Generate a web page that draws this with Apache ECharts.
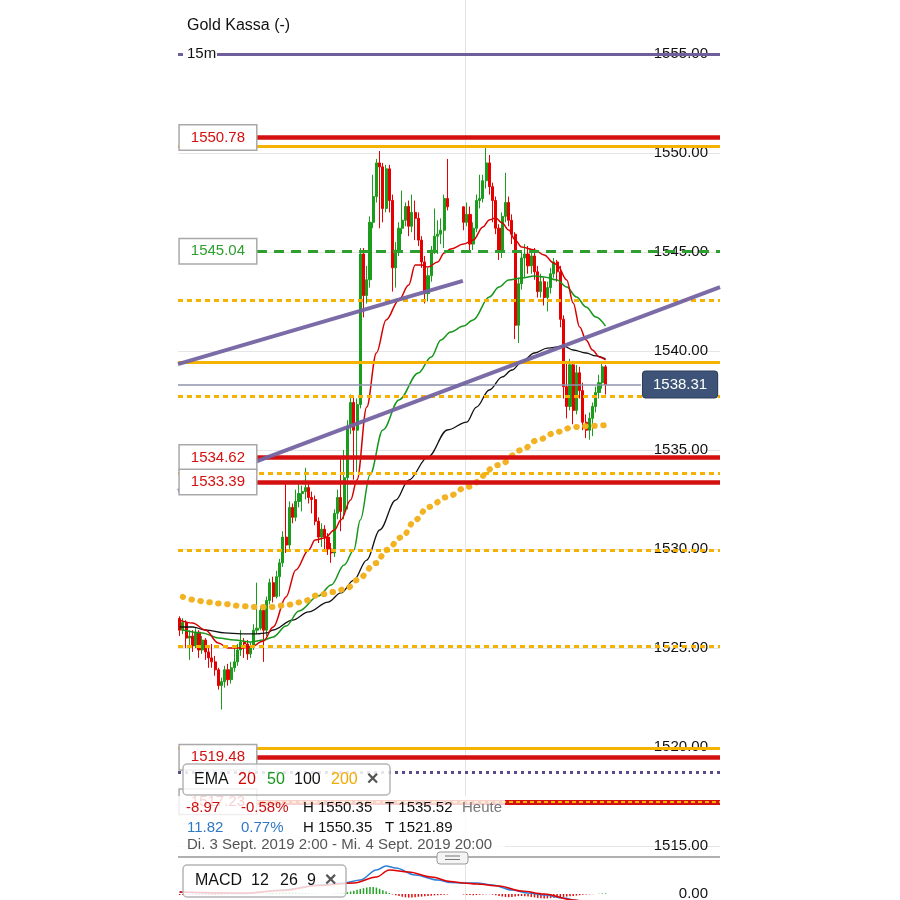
<!DOCTYPE html>
<html><head><meta charset="utf-8">
<script src="https://cdn.jsdelivr.net/npm/echarts@6/dist/echarts.min.js"></script>
<style>html,body{margin:0;padding:0;background:#fff}#c{width:900px;height:900px}</style>
</head><body><div id="c"></div>
<script>
const FONT = '"Liberation Sans", Arial, Helvetica, sans-serif';
const N = 168; // 15-minute slots: Di. 3 Sept 2:00 .. Mi. 4 Sept 20:00

// ---------- DATA ----------
// candles [open, close, low, high]
const candlesDay1 = [
[1526.49,1525.90,1525.60,1526.60],[1525.90,1526.30,1525.70,1526.50],[1526.30,1525.50,1525.00,1526.40],[1525.50,1525.60,1524.40,1525.90],
[1525.60,1525.10,1524.80,1525.90],[1525.10,1525.80,1525.00,1526.00],[1525.80,1524.90,1524.50,1525.90],[1524.90,1525.40,1524.70,1525.60],
[1525.40,1524.80,1524.40,1525.50],[1524.80,1524.50,1524.00,1525.00],[1524.50,1524.30,1524.00,1525.20],[1524.30,1523.90,1523.60,1524.60],
[1523.90,1523.10,1522.90,1524.00],[1523.10,1523.30,1521.89,1523.50],[1523.30,1523.90,1523.00,1524.10],[1523.90,1523.40,1523.10,1524.20],
[1523.40,1524.00,1523.20,1524.30],[1524.00,1524.30,1523.80,1525.00],[1524.30,1524.90,1524.10,1525.20],[1524.90,1525.30,1524.60,1525.90],
[1525.30,1525.20,1524.50,1525.50],[1525.20,1524.70,1524.40,1525.40],[1524.70,1525.10,1524.50,1525.30],[1525.10,1525.90,1524.90,1526.20],
[1525.90,1526.00,1525.70,1528.30],[1526.00,1526.90,1525.90,1527.10],[1526.90,1525.90,1524.30,1527.00],[1525.90,1527.40,1525.60,1527.60],
[1527.40,1528.30,1527.20,1528.50],[1528.30,1527.60,1527.30,1528.60],[1527.60,1528.60,1527.50,1528.90],[1528.60,1529.30,1527.60,1529.50],
[1529.30,1530.60,1529.10,1530.90],[1530.60,1530.20,1529.80,1533.40],[1530.20,1532.10,1530.00,1532.40],[1532.10,1531.60,1531.30,1532.30],
[1531.60,1532.40,1531.40,1533.00],[1532.40,1532.80,1532.10,1533.40],[1532.80,1532.90,1531.90,1533.20],[1532.90,1533.10,1532.50,1534.10],
[1533.10,1532.60,1532.30,1533.40],[1532.60,1532.50,1531.80,1532.90],[1532.50,1531.40,1531.20,1532.70],[1531.40,1530.60,1530.30,1531.60],
[1530.60,1531.00,1530.10,1531.30],[1531.00,1530.60,1529.90,1531.20],[1530.60,1530.00,1529.70,1530.80],[1530.00,1529.80,1529.30,1530.30],
[1529.80,1531.80,1529.60,1532.00],[1531.80,1532.60,1531.50,1533.00],[1532.60,1531.90,1530.90,1534.60],[1531.90,1533.60,1531.50,1535.00],
[1533.60,1536.20,1532.00,1536.50],[1536.20,1537.40,1535.80,1537.80],[1537.40,1536.00,1533.50,1537.70],[1536.00,1537.30,1533.90,1537.60],
[1537.30,1544.90,1537.10,1545.20],[1544.90,1542.80,1541.70,1545.20],[1542.80,1543.60,1542.40,1544.30],[1543.60,1546.50,1543.20,1546.80],
[1546.50,1547.80,1546.20,1548.90],[1547.80,1549.50,1547.50,1549.70],[1549.50,1549.30,1546.20,1550.10],[1549.30,1547.20,1546.50,1549.50],
[1547.20,1549.20,1547.00,1549.40],[1549.20,1547.60,1547.00,1549.40],[1547.60,1544.20,1543.00,1547.90],[1544.20,1545.10,1543.20,1545.50],
[1545.10,1546.20,1544.80,1546.50],[1546.20,1546.60,1545.90,1548.10],[1546.60,1547.30,1546.30,1547.50],[1547.30,1546.30,1545.80,1547.60],
[1546.30,1547.00,1546.00,1547.90],[1547.00,1546.70,1545.60,1547.60],[1546.70,1545.60,1545.30,1547.00],[1545.60,1544.50,1544.20,1545.80],
[1544.50,1542.90,1542.40,1544.80],[1542.90,1543.80,1542.50,1544.20],[1543.80,1545.10,1543.50,1545.30],[1545.10,1545.80,1544.90,1547.20],
[1545.80,1545.90,1544.90,1546.60],[1545.90,1546.10,1545.40,1546.70],[1546.10,1547.70,1545.20,1547.90],[1547.70,1547.28,1547.10,1549.70]
];
const day2Start = 88; // Mi. 4 Sept 0:00
const candlesDay2 = [
[1547.28,1546.50,1546.10,1547.30],[1546.50,1546.90,1546.30,1547.50],[1546.90,1545.40,1545.00,1547.30],[1545.40,1546.20,1545.10,1546.50],
[1546.20,1547.60,1546.00,1547.90],[1547.60,1547.70,1547.20,1548.90],[1547.70,1548.60,1547.50,1548.90],[1548.60,1549.50,1548.20,1550.35],
[1549.50,1548.30,1547.90,1549.90],[1548.30,1547.60,1546.50,1548.50],[1547.60,1546.20,1545.90,1547.80],[1546.20,1545.00,1544.60,1546.40],
[1545.00,1546.80,1544.70,1547.00],[1546.80,1547.50,1546.50,1549.00],[1547.50,1546.60,1546.30,1547.80],[1546.60,1545.90,1545.40,1546.90],
[1545.90,1541.30,1540.60,1546.00],[1541.30,1543.40,1540.40,1543.70],[1543.40,1544.70,1543.10,1545.00],[1544.70,1544.90,1543.70,1545.40],
[1544.90,1544.30,1543.90,1545.30],[1544.30,1544.80,1543.90,1545.10],[1544.80,1544.00,1543.60,1545.20],[1544.00,1543.00,1542.70,1544.30],
[1543.00,1543.50,1542.70,1543.90],[1543.50,1542.70,1542.30,1543.70],[1542.70,1543.20,1542.00,1543.50],[1543.20,1543.90,1542.90,1544.20],
[1543.90,1544.50,1543.70,1544.70],[1544.50,1544.00,1543.50,1544.60],[1544.00,1541.60,1541.20,1544.30],[1541.60,1538.20,1537.60,1541.80],
[1538.20,1537.20,1536.60,1539.50],[1537.20,1539.30,1537.00,1539.60],[1539.30,1537.00,1536.30,1539.50],[1537.00,1538.90,1536.80,1539.30],
[1538.90,1538.00,1537.60,1539.20],[1538.00,1536.40,1536.00,1538.40],[1536.40,1536.00,1535.60,1536.80],[1536.00,1536.60,1535.52,1536.90],
[1536.60,1537.20,1535.70,1537.40],[1537.20,1537.90,1536.90,1538.20],[1537.90,1538.40,1537.60,1538.80],[1538.40,1539.20,1538.10,1539.45],
[1539.20,1538.31,1537.80,1539.30]
];

// EMA curves: [bar index, price]
const ema20 = [[0,1526.41],[4,1526.26],[8,1525.91],[12,1525.25],[15,1525.00],[19,1525.00],[22,1525.05],[26,1525.35],[29,1526.06],[33,1527.58],[36,1528.94],[40,1529.95],[42,1530.45],[45,1530.56],[48,1530.96],[50,1531.46],[53,1532.47],[55,1533.50],[58,1537.17],[61,1539.90],[64,1541.57],[68,1542.58],[71,1543.33],[73,1544.34],[75,1544.34],[77,1544.24],[80,1544.50],[82,1544.95],[84,1545.15],[88,1545.40],[91,1545.60],[94,1546.26],[96,1546.62],[98,1546.72],[100,1546.46],[102,1546.11],[104,1545.61],[106,1545.25],[110,1545.10],[113,1544.85],[116,1544.44],[117,1544.34],[120,1543.59],[122,1542.42],[124,1541.21],[126,1540.56],[128,1540.05],[130,1539.70],[132,1539.55]];
const ema50 = [[1,1525.91],[7,1525.76],[12,1525.51],[17,1525.40],[22,1525.30],[26,1525.40],[29,1525.56],[33,1526.11],[37,1526.87],[43,1527.63],[47,1528.18],[51,1529.19],[54,1529.95],[56,1531.46],[59,1533.74],[63,1536.01],[68,1537.53],[74,1538.89],[78,1539.70],[81,1540.56],[84,1540.96],[88,1541.26],[91,1541.57],[96,1542.73],[99,1543.23],[102,1543.59],[106,1543.69],[110,1543.79],[113,1543.74],[117,1543.59],[120,1543.23],[123,1542.73],[126,1542.22],[129,1541.72],[132,1541.26]];
const ema100 = [[0,1526.06],[4,1526.06],[8,1525.91],[14,1525.76],[19,1525.71],[24,1525.71],[27,1525.76],[29,1525.91],[35,1526.41],[40,1526.82],[46,1527.32],[50,1527.78],[54,1528.43],[58,1529.44],[62,1530.96],[67,1532.47],[71,1533.48],[77,1534.65],[83,1536.01],[89,1536.41],[92,1537.17],[96,1538.03],[100,1538.69],[103,1539.04],[106,1539.44],[110,1539.90],[114,1540.15],[119,1540.25],[122,1540.05],[126,1539.90],[129,1539.75],[132,1539.60]];
const ema200 = [[1,1527.58],[5,1527.42],[8,1527.32],[14,1527.22],[19,1527.12],[24,1527.07],[29,1527.07],[33,1527.17],[38,1527.32],[43,1527.68],[48,1527.83],[52,1528.03],[55,1528.43],[61,1529.29],[64,1529.95],[69,1530.61],[73,1531.46],[77,1532.12],[83,1532.63],[89,1533.13],[99,1534.24],[106,1535.00],[111,1535.51],[117,1535.91],[122,1536.16],[127,1536.21],[132,1536.26]];

// MACD (12,26,9): [bar index, value]
const macdLine = [[0,0.2],[10,0.1],[20,0.05],[32,0.4],[43,0.9],[51,1.1],[56,1.4],[61,2.4],[64,2.8],[67,2.6],[73,1.9],[80,1.4],[84,1.15],[88,1.1],[92,1.1],[97,0.9],[103,0.4],[108,0.1],[113,-0.1],[119,-0.4],[123,-0.65],[127,-0.9],[132,-1.0]];
const signalLine = [[0,0.2],[20,0.1],[32,0.35],[43,0.85],[54,1.1],[61,1.7],[65,2.4],[71,2.2],[78,1.7],[84,1.25],[88,1.1],[92,1.0],[99,0.8],[106,0.3],[113,0.0],[122,-0.6],[127,-0.8],[132,-0.95]];
const histDay1 = [-0.10,-0.10,-0.08,
-0.04,-0.05,-0.05,-0.05,-0.06,-0.07,-0.08,-0.09,-0.10,-0.08,-0.06,-0.05,-0.04,
-0.02,-0.01,0.01,0.02,0.02,0.03,0.04,0.05,0.06,0.05,0.04,0.06,
0.09,0.10,0.11,0.12,0.14,0.16,0.15,0.13,0.12,0.11,0.10,0.10,0.08,0.06,0.04,0.02,0.01,0.00,-0.01,0.02,0.05,
0.08,0.11,0.15,0.19,0.25,0.33,0.42,0.50,0.58,0.65,0.70,0.70,0.64,0.52,0.38,0.24,0.10,
-0.04,-0.12,-0.20,-0.27,-0.33,-0.36,-0.35,-0.32,-0.28,-0.26,-0.23,-0.20,-0.17,-0.14,-0.12,-0.09,-0.07,-0.05];
const histDay2 = [-0.05,-0.08,-0.11,-0.12,-0.10,-0.07,-0.05,-0.03,-0.02,
-0.06,-0.13,-0.20,-0.26,-0.30,-0.32,-0.29,-0.25,-0.21,-0.20,-0.22,-0.26,-0.30,-0.34,-0.39,-0.43,-0.45,-0.44,-0.41,-0.38,-0.35,-0.32,-0.29,-0.26,-0.23,-0.20,-0.16,-0.12,-0.08,-0.05,-0.03,-0.02,-0.01,
0.03,0.05,0.06];

// horizontal levels (price)
const purpleLevel = 1555.00;
const redLevels = [1550.78, 1534.62, 1533.39, 1519.48];
const greenLevel = 1545.04;
const orangeSolidLevels = [1550.35, 1539.45, 1519.95];
const orangeDottedLevels = [1542.58, 1537.69, 1533.82, 1529.95, 1525.07];
const purpleDottedLevel = 1518.70;
const redOrangeLevel = 1517.23;
const lastPrice = 1538.31;
// trend lines: [bar position, price]
const trendUpper = [[0,1539.34],[88.3,1543.54]];
const trendLower = [[0,1532.93],[168,1543.23]];
const dayBreakPos = 89;

// texts
const titleText = 'Gold Kassa (-)';
const periodText = '15m';
const infoRow1 = ['-8.97', '-0.58%', 'H 1550.35', 'T 1535.52', 'Heute'];
const infoRow2 = ['11.82', '0.77%', 'H 1550.35', 'T 1521.89'];
const rangeText = 'Di. 3 Sept. 2019 2:00 - Mi. 4 Sept. 2019 20:00';
const emaPeriods = ['20', '50', '100', '200'];
const macdParams = ['12', '26', '9'];

// ---------- BUILD ----------
const cats = Array.from({length:N}, (_, i) => String(i));
const candleData = new Array(N).fill('-');
candlesDay1.forEach((c, i) => candleData[i] = c);
candlesDay2.forEach((c, i) => candleData[day2Start + i] = c);
function sparse(pts) { const a = new Array(N).fill(null); pts.forEach(p => a[p[0]] = p[1]); return a; }
const histData = new Array(N).fill(null);
histDay1.forEach((v, i) => histData[i] = v);
histDay2.forEach((v, i) => histData[day2Start + i] = v);

const RED = '#d41010', ORANGE = '#f5b300', GREEN = '#2e9e2e', PURPLE = '#6f5e9c';
const labelStart = 24.5, priceLineEnd = 143.5;
function boxLabel(color, text) {
  return { show: true, position: 'start', distance: 1, formatter: text, color: color,
    fontSize: 15, fontFamily: FONT, backgroundColor: '#fff', borderColor: '#a9a9a9', borderWidth: 1.5,
    padding: [4, 11, 3, 11], lineHeight: 17 };
}
function hl(v, x0, x1, style, label) {
  return [{ coord: [x0, v], lineStyle: style, label: label || { show: false } }, { coord: [x1, v] }];
}
const lines = [];
lines.push(hl(purpleLevel, 0, N, { color: PURPLE, width: 3, type: 'solid' }));
orangeDottedLevels.forEach(v => lines.push(hl(v, 0, N, { color: ORANGE, width: 3, type: [5, 4] })));
lines.push(hl(purpleDottedLevel, 0, N, { color: '#5b4b8a', width: 3, type: [3, 4] }));
lines.push(hl(lastPrice, 0, priceLineEnd, { color: '#8e93ad', width: 1.5, type: 'solid' },
  { show: true, position: 'end', distance: 2, formatter: lastPrice.toFixed(2), color: '#fff', fontSize: 15, fontFamily: FONT,
    backgroundColor: '#3d5478', borderColor: '#2c3d5a', borderWidth: 1, borderRadius: 3, padding: [6, 10, 5, 10] }));
lines.push(hl(redOrangeLevel, labelStart, N, { color: RED, width: 5, type: 'solid' }, boxLabel(RED, redOrangeLevel.toFixed(2))));
lines.push(hl(redOrangeLevel, labelStart, N, { color: ORANGE, width: 2, type: [4, 3] }));
orangeSolidLevels.forEach(v => lines.push(hl(v, 0, N, { color: ORANGE, width: 3, type: 'solid' })));
lines.push(hl(greenLevel, labelStart, N, { color: GREEN, width: 3, type: [10, 7] }, boxLabel(GREEN, greenLevel.toFixed(2))));
redLevels.forEach(v => lines.push(hl(v, labelStart, N, { color: RED, width: 4.5, type: 'solid' }, boxLabel(RED, v.toFixed(2)))));
[trendUpper, trendLower].forEach(t => lines.push([
  { coord: t[0], lineStyle: { color: '#7464a2', width: 4, type: 'solid', opacity: 0.95 }, label: { show: false } },
  { coord: t[1] }]));

function emaSeries(pts, color, width, extra) {
  return Object.assign({ type: 'line', xAxisIndex: 0, yAxisIndex: 0, data: sparse(pts), connectNulls: true,
    showSymbol: false, symbol: 'none', smooth: 0.35, smoothMonotone: 'x', silent: true, z: 3,
    lineStyle: { color: color, width: width } }, extra || {});
}
function T(x, y, text, color, size, weight) {
  return { type: 'text', x: x, y: y, z: 102, silent: true,
    style: { text: text, fill: color, font: (weight || 'normal') + ' ' + size + 'px ' + FONT, verticalAlign: 'middle', align: 'left' } };
}

const option = {
  animation: false,
  backgroundColor: '#fff',
  textStyle: { fontFamily: FONT },
  grid: [
    { left: 178, right: 180, top: 54, bottom: 54, outerBoundsMode: 'none' },
    { left: 178, right: 180, top: 858, height: 42, outerBoundsMode: 'none' }
  ],
  xAxis: [
    { type: 'category', gridIndex: 0, data: cats, boundaryGap: true, show: false },
    { type: 'value', gridIndex: 0, min: 0, max: N, show: false },
    { type: 'category', gridIndex: 1, data: cats, boundaryGap: true, show: false },
    { type: 'value', gridIndex: 1, min: 0, max: N, show: false }
  ],
  yAxis: [
    { type: 'value', gridIndex: 0, position: 'right', min: 1515, max: 1555, interval: 5,
      axisLine: { show: false }, axisTick: { show: false },
      axisLabel: { inside: true, margin: 12, color: '#111', fontSize: 15, fontFamily: FONT, formatter: v => v.toFixed(2) },
      splitLine: { show: true, lineStyle: { color: '#e6e6e6', width: 1 } } },
    { type: 'value', gridIndex: 1, position: 'right', min: -0.6, max: 3.6, interval: 0.6,
      axisLine: { show: false }, axisTick: { show: false }, splitLine: { show: false },
      axisLabel: { inside: true, margin: 12, color: '#111', fontSize: 15, fontFamily: FONT,
        formatter: v => Math.abs(v) < 1e-6 ? '0.00' : '' } }
  ],
  series: [
    { type: 'candlestick', xAxisIndex: 0, yAxisIndex: 0, data: candleData, barWidth: 2.6, barMinWidth: 2.6, silent: true, z: 2,
      itemStyle: { color: '#1c9c1c', color0: '#e60000', borderColor: '#1c9c1c', borderColor0: '#e60000', borderWidth: 1 } },
    emaSeries(ema100, '#111', 1.3),
    emaSeries(ema50, '#16961b', 1.5),
    emaSeries(ema20, '#d60000', 1.5),
    emaSeries(ema200, '#f2b222', 6, { lineStyle: { color: '#f2b222', width: 6, type: [0.5, 8.5], cap: 'round' } }),
    { type: 'line', xAxisIndex: 1, yAxisIndex: 0, data: [], silent: true, z: 4,
      markLine: { symbol: ['none', 'none'], silent: true, animation: false, z: 6, precision: 2,
        label: { show: false }, data: lines } },
    { type: 'bar', xAxisIndex: 2, yAxisIndex: 1, silent: true, barWidth: 1.5,
      data: histData.map(v => v === null ? '-' : { value: v, itemStyle: { color: v >= 0 ? '#23a323' : '#e01010' } }) },
    { type: 'line', xAxisIndex: 2, yAxisIndex: 1, data: sparse(macdLine), connectNulls: true, showSymbol: false, symbol: 'none',
      smooth: 0.35, smoothMonotone: 'x', silent: true, clip: true, lineStyle: { color: '#2f7fd6', width: 1.5 } },
    { type: 'line', xAxisIndex: 2, yAxisIndex: 1, data: sparse(signalLine), connectNulls: true, showSymbol: false, symbol: 'none',
      smooth: 0.35, smoothMonotone: 'x', silent: true, clip: true, lineStyle: { color: '#e00000', width: 1.5 } }
  ],
  graphic: [
    { id: 'daybreak', type: 'line', z: 0, silent: true, shape: { x1: 0, y1: 0, x2: 0, y2: 900 }, style: { stroke: '#e4e4e4', lineWidth: 1 } },
    T(187, 26, titleText, '#111', 16),
    { type: 'rect', z: 101, silent: true, shape: { x: 183, y: 45, width: 34, height: 18 }, style: { fill: '#fff' } },
    T(187, 54, periodText, '#111', 15),
    { type: 'rect', z: 99, silent: true, shape: { x: 178, y: 796, width: 327, height: 60 }, style: { fill: 'rgba(255,255,255,0.8)' } },
    T(186, 808, infoRow1[0], '#cc1111', 15), T(241, 808, infoRow1[1], '#cc1111', 15),
    T(303, 808, infoRow1[2], '#111', 15), T(385, 808, infoRow1[3], '#111', 15), T(462, 808, infoRow1[4], '#777', 15),
    T(187, 828, infoRow2[0], '#2f78c4', 15), T(241, 828, infoRow2[1], '#2f78c4', 15),
    T(303, 828, infoRow2[2], '#111', 15), T(385, 828, infoRow2[3], '#111', 15),
    T(187, 845, rangeText, '#555', 15),
    { type: 'rect', z: 100, silent: true, shape: { x: 183, y: 764, width: 207, height: 31, r: 4 },
      style: { fill: 'rgba(255,255,255,0.85)', stroke: '#b5b5b5', lineWidth: 1.5 } },
    T(194, 780, 'EMA', '#111', 16), T(238, 780, emaPeriods[0], '#d60000', 16), T(267, 780, emaPeriods[1], '#16961b', 16),
    T(294, 780, emaPeriods[2], '#111', 16), T(331, 780, emaPeriods[3], '#f2a900', 16), T(366, 780, '✕', '#555', 16, 'bold'),
    { type: 'line', z: 100, silent: true, shape: { x1: 178, y1: 857, x2: 720, y2: 857 }, style: { stroke: '#b0b0b0', lineWidth: 2 } },
    { type: 'rect', z: 101, silent: true, shape: { x: 437, y: 852, width: 31, height: 12, r: 3 }, style: { fill: '#f4f4f4', stroke: '#999', lineWidth: 1 } },
    { type: 'line', z: 102, silent: true, shape: { x1: 445, y1: 856, x2: 460, y2: 856 }, style: { stroke: '#777', lineWidth: 1 } },
    { type: 'line', z: 102, silent: true, shape: { x1: 445, y1: 859.5, x2: 460, y2: 859.5 }, style: { stroke: '#777', lineWidth: 1 } },
    { type: 'rect', z: 100, silent: true, shape: { x: 183, y: 865, width: 163, height: 32, r: 4 },
      style: { fill: 'rgba(255,255,255,0.8)', stroke: '#b5b5b5', lineWidth: 1.5 } },
    T(195, 881, 'MACD', '#111', 16), T(251, 881, macdParams[0], '#111', 16), T(280, 881, macdParams[1], '#111', 16),
    T(307, 881, macdParams[2], '#111', 16), T(324, 881, '✕', '#555', 16, 'bold')
  ]
};
const chart = echarts.init(document.getElementById('c'), null, { renderer: 'canvas', width: 900, height: 900 });
chart.setOption(option);
const vx = Math.round(chart.convertToPixel({ xAxisIndex: 1 }, dayBreakPos)) + 0.5;
chart.setOption({ graphic: [{ id: 'daybreak', shape: { x1: vx, y1: 0, x2: vx, y2: 900 } }] });
</script>
</body></html>
